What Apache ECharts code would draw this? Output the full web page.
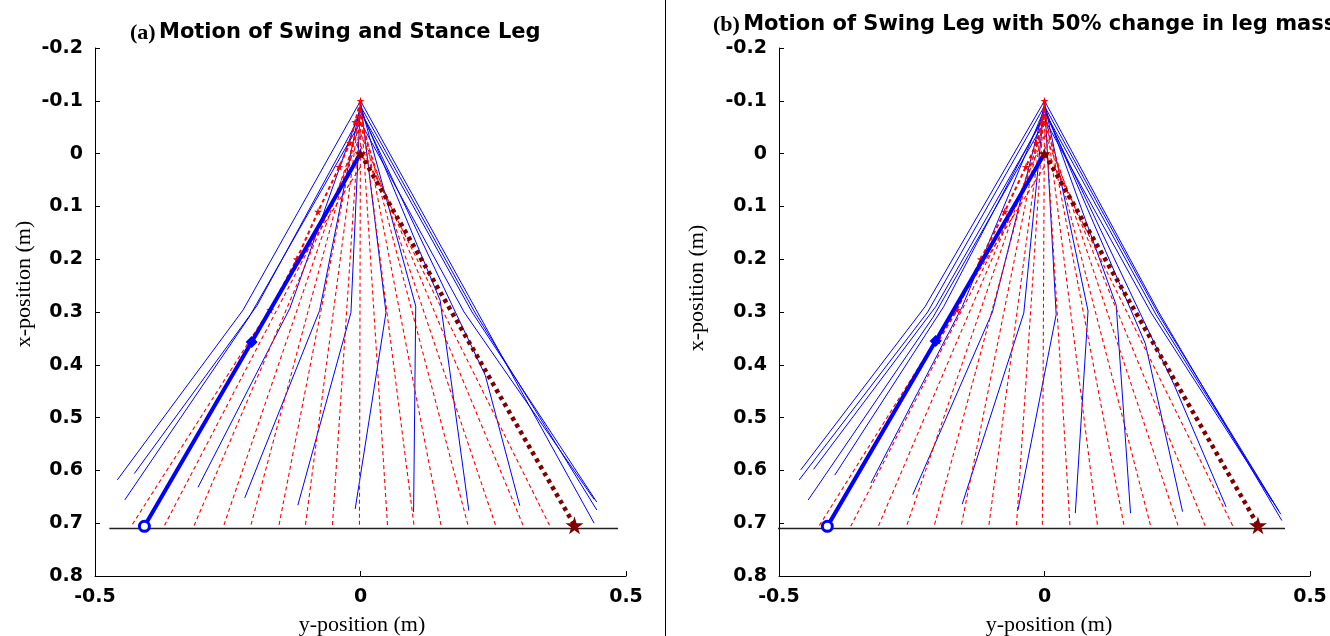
<!DOCTYPE html>
<html><head><meta charset="utf-8">
<script src="https://cdn.jsdelivr.net/npm/echarts@6/dist/echarts.min.js"></script>
<style>html,body{margin:0;padding:0;background:#fff}#c{width:1330px;height:636px}</style>
</head><body><div id="c"></div>
<script>
// ---- axes / ticks ----
const xTicks = [-0.5, 0, 0.5];
const yTicks = [-0.2, -0.1, 0, 0.1, 0.2, 0.3, 0.4, 0.5, 0.6, 0.7, 0.8];
const groundV = 0.71;
const footV = 0.706;
const hipH = 0;

// ---- panel (a) ----
const titleA = ['(a)', 'Motion of Swing and Stance Leg'];
const groundA = [-0.473, 0.485];
const redFootA = [-0.432, -0.37, -0.314, -0.258, -0.207, -0.154, -0.104, -0.053, -0.002, 0.051, 0.101, 0.152, 0.203, 0.255, 0.307, 0.357];
const redHipA  = [0.025, -0.008, -0.034, -0.057, -0.073, -0.085, -0.093, -0.098, -0.1, -0.098, -0.094, -0.085, -0.074, -0.058, -0.038, -0.015];
const blueHipVA  = [-0.1, -0.09, -0.08, -0.06, -0.08, -0.085, -0.094, -0.1, -0.098, -0.093, -0.085, -0.073, -0.1, -0.06];
const blueKneeHA = [0.218, 0.215, 0.21, 0.195, 0.235, 0.15, 0.104, 0.048, -0.018, -0.077, -0.133, -0.195, -0.221, -0.21];
const blueKneeVA = [0.296, 0.30, 0.30, 0.30, 0.42, 0.278, 0.289, 0.301, 0.301, 0.297, 0.293, 0.288, 0.296, 0.31];
const blueFootHA = [0.44, 0.445, 0.445, 0.44, 0.30, 0.204, 0.10, -0.01, -0.118, -0.218, -0.306, -0.426, -0.458, -0.444];
const blueFootVA = [0.70, 0.675, 0.66, 0.655, 0.667, 0.676, 0.679, 0.673, 0.666, 0.652, 0.632, 0.606, 0.618, 0.656];
const finalSwingHA = [0, -0.205, -0.407];
const finalSwingVA = [0, 0.357, 0.706];
const finalStanceHA = [0, 0.403];
const finalStanceVA = [0, 0.704];
const traceHA = [0, -0.01, -0.02, -0.04, -0.08, -0.12, -0.17, -0.205];
const traceVA = [-0.1, -0.06, -0.02, 0.025, 0.11, 0.2, 0.296, 0.357];

// ---- panel (b) ----
const titleB = ['(b)', 'Motion of Swing Leg with 50% change in leg mass'];
const groundB = [-0.508, 0.453];
const redFootB = [-0.425, -0.365, -0.313, -0.26, -0.208, -0.157, -0.105, -0.053, -0.004, 0.048, 0.1, 0.15, 0.2, 0.252, 0.303, 0.355];
const redHipB  = [0.024, -0.008, -0.034, -0.057, -0.073, -0.085, -0.093, -0.098, -0.1, -0.098, -0.094, -0.086, -0.074, -0.058, -0.038, -0.015];
const blueHipVB  = [-0.1, -0.09, -0.08, -0.065, -0.08, -0.085, -0.09, -0.097, -0.1, -0.097, -0.092, -0.085, -0.075, -0.1, -0.09, -0.06, -0.07];
const blueKneeHB = [0.215, 0.215, 0.21, 0.2, 0.245, 0.19, 0.135, 0.082, 0.022, -0.039, -0.098, -0.155, -0.19, -0.225, -0.22, -0.21, -0.205];
const blueKneeVB = [0.30, 0.305, 0.305, 0.30, 0.44, 0.36, 0.287, 0.298, 0.305, 0.302, 0.30, 0.29, 0.29, 0.29, 0.30, 0.31, 0.29];
const blueFootHB = [0.447, 0.445, 0.44, 0.43, 0.342, 0.26, 0.162, 0.058, -0.05, -0.155, -0.248, -0.327, -0.395, -0.459, -0.462, -0.445, -0.435];
const blueFootVB = [0.695, 0.683, 0.675, 0.66, 0.669, 0.678, 0.681, 0.681, 0.675, 0.664, 0.646, 0.624, 0.609, 0.599, 0.618, 0.656, 0.598];
const finalSwingHB = [0, -0.205, -0.409];
const finalSwingVB = [0, 0.355, 0.706];
const finalStanceHB = [0, 0.402];
const finalStanceVB = [0, 0.704];
const traceHB = [0, -0.005, -0.015, -0.035, -0.075, -0.12, -0.165, -0.2];
const traceVB = [-0.1, -0.06, -0.02, 0.025, 0.11, 0.2, 0.296, 0.355];

const STAR = 'path://M50,0 L61,35 L98,35 L68,57 L79,91 L50,70 L21,91 L32,57 L2,35 L39,35 Z';
const TICKFONT = {fontFamily: 'DejaVu Sans', fontWeight: 'bold', fontSize: 19, color: '#000'};

function panelSeries(g, P) {
  const s = [];
  const base = {type: 'line', xAxisIndex: g, yAxisIndex: g, symbol: 'none', silent: true, animation: false};
  // ground
  s.push(Object.assign({}, base, {clip: false, z: 1, data: [[P.ground[0], groundV], [P.ground[1], groundV]],
    lineStyle: {color: '#222', width: 1.5}}));
  // swing leg (blue)
  for (let i = 0; i < P.bhv.length; i++) {
    s.push(Object.assign({}, base, {z: 2, data: [[hipH, P.bhv[i]], [P.bkh[i], P.bkv[i]], [P.bfh[i], P.bfv[i]]],
      lineStyle: {color: '#0000ff', width: 1}}));
  }
  // stance leg (red dashed)
  for (let i = 0; i < P.rf.length; i++) {
    s.push(Object.assign({}, base, {z: 3, data: [[hipH, P.rh[i]], [P.rf[i], footV]],
      lineStyle: {color: '#ff0000', width: 1.1, type: [4, 3]}}));
  }
  // red trace with stars
  s.push(Object.assign({}, base, {z: 4, showSymbol: true, symbol: STAR, symbolSize: 8,
    itemStyle: {color: '#ff0000'},
    data: P.th.map((h, i) => [h, P.tv[i]]),
    lineStyle: {color: '#ff0000', width: 2, type: [4, 3]}}));
  // final swing leg (thick blue)
  s.push(Object.assign({}, base, {z: 5, showSymbol: true,
    data: [
      {value: [P.fsh[0], P.fsv[0]], symbol: 'none'},
      {value: [P.fsh[1], P.fsv[1]], symbol: 'diamond', symbolSize: 12, itemStyle: {color: '#0000ff'}},
      {value: [P.fsh[2], P.fsv[2]], symbol: 'circle', symbolSize: 10, itemStyle: {color: '#fff', borderColor: '#0000ff', borderWidth: 3}}
    ],
    lineStyle: {color: '#0000ff', width: 4}}));
  // final stance leg (maroon dotted)
  s.push(Object.assign({}, base, {z: 6, showSymbol: true,
    data: [
      {value: [P.sth[0], P.stv[0]], symbol: STAR, symbolSize: 12, itemStyle: {color: '#800000'}},
      {value: [P.sth[1], P.stv[1]], symbol: STAR, symbolSize: 18, itemStyle: {color: '#800000'}}
    ],
    lineStyle: {color: '#800000', width: 4.5, type: [4, 4], cap: 'butt'}}));
  return s;
}

const PA = {ground: groundA, rf: redFootA, rh: redHipA, bhv: blueHipVA, bkh: blueKneeHA, bkv: blueKneeVA,
  bfh: blueFootHA, bfv: blueFootVA, fsh: finalSwingHA, fsv: finalSwingVA, sth: finalStanceHA, stv: finalStanceVA, th: traceHA, tv: traceVA};
const PB = {ground: groundB, rf: redFootB, rh: redHipB, bhv: blueHipVB, bkh: blueKneeHB, bkv: blueKneeVB,
  bfh: blueFootHB, bfv: blueFootVB, fsh: finalSwingHB, fsv: finalSwingVB, sth: finalStanceHB, stv: finalStanceVB, th: traceHB, tv: traceVB};

function xAx(g) {
  return {type: 'value', gridIndex: g, min: xTicks[0], max: xTicks[xTicks.length - 1], interval: 0.5,
    axisLine: {onZero: false, lineStyle: {color: '#000', width: 1}},
    axisTick: {inside: true, length: 5, lineStyle: {color: '#000'}},
    splitLine: {show: false},
    axisLabel: Object.assign({margin: 12}, TICKFONT)};
}
function yAx(g) {
  return {type: 'value', gridIndex: g, inverse: true, min: yTicks[0], max: yTicks[yTicks.length - 1], interval: 0.1,
    axisLine: {onZero: false, lineStyle: {color: '#000', width: 1}},
    axisTick: {inside: true, length: 5, lineStyle: {color: '#000'}},
    splitLine: {show: false},
    axisLabel: Object.assign({margin: 12, formatter: v => String(Math.round(v * 10) / 10)}, TICKFONT)};
}

function titleText(x, y, t) {
  return {type: 'text', x: x, y: y, style: {
    text: '{p|' + t[0] + '} {t|' + t[1] + '}',
    rich: {p: {fontFamily: 'Liberation Serif', fontWeight: 'bold', fontSize: 22, fill: '#000'},
           t: {fontFamily: 'DejaVu Sans', fontWeight: 'bold', fontSize: 21, fill: '#000'}},
    verticalAlign: 'middle'}};
}
function axName(x, y, txt, rot) {
  return {type: 'text', x: x, y: y, rotation: rot, style: {text: txt, font: '22px "Liberation Serif"', fill: '#000',
    align: 'center', verticalAlign: 'middle'}};
}

const chart = echarts.init(document.getElementById('c'), null, {renderer: 'canvas'});
chart.setOption({
  animation: false,
  backgroundColor: '#fff',
  grid: [
    {left: 95, top: 48, width: 531, height: 528},
    {left: 779, top: 48, width: 531, height: 528}
  ],
  xAxis: [xAx(0), xAx(1)],
  yAxis: [yAx(0), yAx(1)],
  series: panelSeries(0, PA).concat(panelSeries(1, PB)),
  graphic: [
    titleText(130, 33, titleA),
    titleText(713, 25, titleB),
    axName(24, 284, 'x-position (m)', Math.PI / 2),
    axName(697, 288, 'x-position (m)', Math.PI / 2),
    axName(362, 625, 'y-position (m)', 0),
    axName(1049, 625, 'y-position (m)', 0),
    {type: 'line', shape: {x1: 665.5, y1: 0, x2: 665.5, y2: 636}, style: {stroke: '#000', lineWidth: 1}}
  ]
});
</script></body></html>
